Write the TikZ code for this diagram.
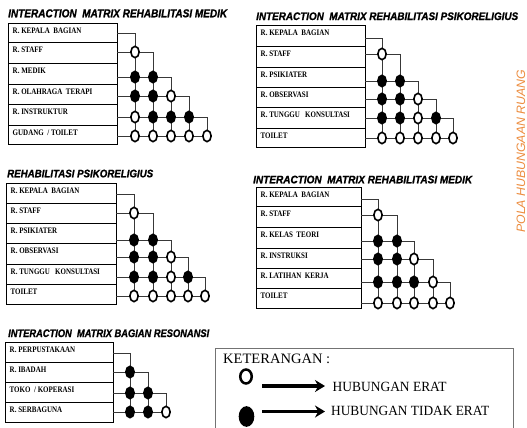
\documentclass[tikz,border=0pt]{standalone}
\usepackage{fontspec}
\usepackage{graphicx}
\setmainfont{Liberation Serif}
\setsansfont{Liberation Sans}
\newfontfamily\headfont{Liberation Sans}[BoldItalicFeatures={FakeBold=1.2}]
\usetikzlibrary{shapes.geometric,arrows.meta}

\definecolor{wirecol}{gray}{0.22}
\definecolor{polaorange}{RGB}{236,140,62}
\definecolor{legendframe}{gray}{0.45}

\tikzset{
  roombox/.style={draw=black, line width=0.8pt, inner sep=0pt, outer sep=0pt},
  roomlabel/.style={font=\fontsize{7}{8}\selectfont\bfseries, inner sep=0pt, anchor=base west},
  wire/.style={draw=wirecol, line width=0.9pt},
  opn/.style={ellipse, draw=black, fill=white, line width=1.6pt,
    minimum width=8.3pt, minimum height=11.3pt, inner sep=0pt},
  sld/.style={opn, fill=black},
  heading/.style={font=\headfont\bfseries\itshape, inner sep=0pt, anchor=base west},
  legendtext/.style={inner sep=0pt, anchor=base west},
  pointer/.style={-{Stealth[length=10pt,width=12pt]}, line width=3.2pt},
}

% #1 prefix, #2 left edge, #3 right edge, #4 row borders, #5 wire levels,
% #6 column positions, #7 number of rooms, #8 rooms as label/{relations}
\newcommand\imatrix[8]{%
  \foreach \lab/\rel [count=\i] in {#8}{%
    \pgfmathsetmacro\ta{{#4}[\i-1]}%
    \pgfmathsetmacro\tb{{#4}[\i]}%
    \pgfmathsetmacro\yi{{#5}[\i-1]}%
    \node[roombox, minimum width=#3pt-#2pt, minimum height=\tb pt-\ta pt,
      anchor=north west] (#1r\i) at (#2,\ta) {};
    \node[roomlabel] at ([xshift=4.5pt,yshift=-10.3pt]#1r\i.north west)
      {\scalebox{1}[1.2]{\lab}};
    \coordinate (#1s\i) at (#3,\yi);
    \ifnum\i>1
      \foreach \st [count=\j] in \rel {%
        \pgfmathsetmacro\xj{{#6}[\j-1]}%
        \coordinate (#1k\i-\j) at (\xj,\yi);
      }%
    \fi
  }%
  \foreach \i in {1,...,#7}{%
    \ifnum\i<#7\relax
      \draw[wire] (#1s\i) -| (#1k#7-\i);
    \else
      \pgfmathtruncatemacro\m{#7-1}%
      \draw[wire] (#1s\i) -- (#1k#7-\m);
    \fi
  }%
  \foreach \lab/\rel [count=\i] in {#8}{%
    \ifnum\i>1
      \foreach \st [count=\j] in \rel {\node[\st] (#1c\i-\j) at (#1k\i-\j) {};}%
    \fi
  }%
}

\begin{document}
\begin{tikzpicture}[x=1pt,y=-1pt]
\useasboundingbox (0,0) rectangle (527,428);

% headings
\node[heading] (ta) at (8,17.3)
  {\resizebox{219pt}{8pt}{INTERACTION\ \ MATRIX REHABILITASI MEDIK}};
\node[heading] (tb) at (256,20)
  {\resizebox{262pt}{7.6pt}{INTERACTION\ \ MATRIX REHABILITASI PSIKORELIGIUS}};
\node[heading] (tc) at (7,177.3)
  {\resizebox{146pt}{7.6pt}{REHABILITASI PSIKORELIGIUS}};
\node[heading] (td) at (253,183.3)
  {\resizebox{219pt}{7.6pt}{INTERACTION\ \ MATRIX REHABILITASI MEDIK}};
\node[heading] (te) at (8,337)
  {\resizebox{201pt}{7.6pt}{INTERACTION\ \ MATRIX BAGIAN RESONANSI}};

% rehabilitasi medik
\imatrix{pa}{8}{117}{23,42,63,84,104,125,144}{33,52,77,96,117,136}{135,153,171,189,207}{6}{%
R. KEPALA\ \ BAGIAN/{},%
R. STAFF/{opn},%
R. MEDIK/{sld,sld},%
R. OLAHRAGA\ \ TERAPI/{sld,sld,opn},%
R. INSTRUKTUR/{opn,sld,sld,sld},%
{GUDANG\ \ / TOILET}/{opn,opn,opn,opn,opn}}

% rehabilitasi psikoreligius
\imatrix{pb}{256}{365}{25,46,67,87,107,128,147}{38,54,81,99,118,138}{382,400,418,436,453}{6}{%
R. KEPALA\ \ BAGIAN/{},%
R. STAFF/{opn},%
R. PSIKIATER/{sld,sld},%
R. OBSERVASI/{sld,sld,opn},%
R. TUNGGU\ \ \ KONSULTASI/{sld,sld,opn,sld},%
TOILET/{opn,opn,opn,opn,opn}}

\imatrix{pc}{6}{116}{183,203,223,243,264,284,304}{194,213,240,257,277,296}{134,153,171,188,205}{6}{%
R. KEPALA\ \ BAGIAN/{},%
R. STAFF/{opn},%
R. PSIKIATER/{sld,sld},%
R. OBSERVASI/{sld,sld,opn},%
R. TUNGGU\ \ \ KONSULTASI/{sld,sld,opn,sld},%
TOILET/{opn,opn,opn,opn,opn}}

\imatrix{pd}{256}{361}{187,206,227,248,268,288,308}{199,215,241,259,282,303}{378,397,414,433,450}{6}{%
R. KEPALA\ \ BAGIAN/{},%
R. STAFF/{opn},%
R. KELAS\ \ TEORI/{sld,sld},%
R. INSTRUKSI/{sld,sld,opn},%
R. LATIHAN\ \ KERJA/{sld,sld,sld,opn},%
TOILET/{opn,opn,opn,opn,opn}}

% bagian resonansi
\imatrix{pe}{5}{113}{342,362,382,402,422}{353,372,393,412}{130,148,166}{4}{%
R. PERPUSTAKAAN/{},%
R. IBADAH/{sld},%
{TOKO\ \ / KOPERASI}/{sld,sld},%
R. SERBAGUNA/{sld,sld,opn}}

% legend frame, open at the bottom edge
\coordinate (fl) at (215,430);
\coordinate (ft) at (513,348);
\coordinate (fr) at (513,430);
\draw[legendframe, line width=0.8pt] (fl) |- (ft) -- (fr);
\node[legendtext] (keterangan) at (223,363) {\resizebox{107pt}{9.5pt}{KETERANGAN :}};
\node[opn, line width=2.5pt, minimum width=11.5pt, minimum height=14pt] (lgo) at (246,376.5) {};
\node[sld, minimum width=14pt, minimum height=19pt] (lgf) at (246.5,416.5) {};
\node[legendtext] (lgerat) at (332.5,391) {\resizebox{114pt}{9.3pt}{HUBUNGAN ERAT}};
\node[legendtext] (lgtidak) at (331,415) {\resizebox{158pt}{9.3pt}{HUBUNGAN TIDAK ERAT}};
\coordinate (a1s) at (262,386);
\coordinate (a1e) at (325,386);
\coordinate (a2s) at (262,411.5);
\coordinate (a2e) at (325,411.5);
\draw[pointer] (a1s) -- (a1e);
\draw[pointer] (a2s) -- (a2e);

% side caption
\node[rotate=90, anchor=base west, inner sep=0pt, text=polaorange, font=\sffamily\itshape]
  (pola) at (525,233) {\resizebox{163pt}{8.5pt}{POLA HUBUNGAAN RUANG}};
\end{tikzpicture}
\end{document}
